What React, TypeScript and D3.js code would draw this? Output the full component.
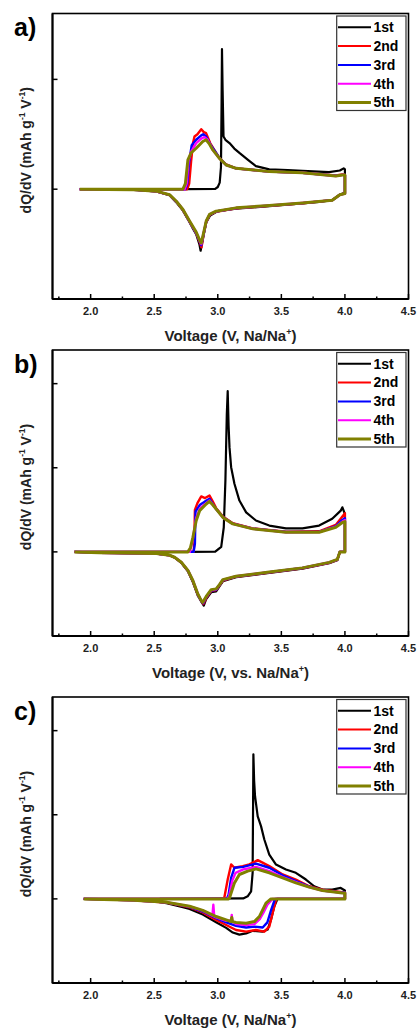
import React from "react";
import * as d3 from "d3";

type P = [number, number];

const CYCLES = ["1st", "2nd", "3rd", "4th", "5th"];
const COLORS = ["#000000", "#ff0000", "#0000ff", "#ff00ff", "#808000"];
const WIDTHS = [2.2, 2.4, 2.4, 2.4, 3];
const LEGEND_WIDTHS = [2, 2, 2, 2, 2.8];
const X_TICKS = [2.0, 2.5, 3.0, 3.5, 4.0, 4.5];
const X_MINOR = [1.75, 2.25, 2.75, 3.25, 3.75, 4.25];
const PANEL_LABELS = ["a)", "b)", "c)"];
const X_TITLES = ["Voltage (V, Na/Na", "Voltage (V, vs. Na/Na", "Voltage (V, Na/Na"];

// ---------- panel a ----------
const a1: P[] = [
  [2.75, 0], [2.98, 0.003], [3.0, 0.02], [3.015, 0.06], [3.025, 0.2], [3.03, 0.8], [3.033, 1.275],
  [3.038, 0.9], [3.045, 0.48], [3.06, 0.45], [3.092, 0.42], [3.13, 0.37], [3.17, 0.33], [3.235, 0.27],
  [3.3, 0.21], [3.405, 0.18], [3.55, 0.175], [3.666, 0.167], [3.875, 0.155], [3.96, 0.17], [3.99, 0.19], [4.0, 0.18],
  [4.0, -0.03], [3.96, -0.05], [3.9, -0.1], [3.8, -0.115], [3.666, -0.13], [3.405, -0.155], [3.144, -0.178],
  [3.0, -0.2], [2.94, -0.24], [2.91, -0.3], [2.89, -0.41], [2.875, -0.5], [2.865, -0.56], [2.855, -0.5],
  [2.83, -0.41], [2.8, -0.35], [2.778, -0.3], [2.726, -0.195], [2.674, -0.12], [2.62, -0.055], [2.517, -0.02],
  [2.34, -0.005], [2.1, 0], [1.914, 0],
];
const a2: P[] = [
  [1.914, 0], [2.5, 0], [2.76, 0], [2.775, 0.05], [2.79, 0.25], [2.805, 0.42], [2.817, 0.48], [2.84, 0.5],
  [2.87, 0.546], [2.89, 0.52], [2.908, 0.51], [2.94, 0.42], [2.987, 0.33], [3.013, 0.285], [3.066, 0.225],
  [3.144, 0.19], [3.405, 0.16], [3.666, 0.15], [3.928, 0.125], [3.98, 0.135], [4.0, 0.13],
  [4.0, -0.04], [3.96, -0.05], [3.9, -0.1], [3.666, -0.128], [3.405, -0.152], [3.144, -0.174], [2.987, -0.205],
  [2.935, -0.235], [2.909, -0.3], [2.89, -0.4], [2.872, -0.53], [2.86, -0.49], [2.83, -0.4], [2.778, -0.295],
  [2.726, -0.19], [2.674, -0.113], [2.62, -0.052], [2.517, -0.02], [2.34, -0.005], [1.914, 0],
];
const a3: P[] = [
  [1.914, 0], [2.5, 0], [2.745, 0], [2.76, 0.05], [2.775, 0.25], [2.795, 0.4], [2.83, 0.45], [2.87, 0.49],
  [2.885, 0.5], [2.908, 0.48], [2.94, 0.41], [2.987, 0.33], [3.013, 0.282], [3.066, 0.222], [3.144, 0.19],
  [3.405, 0.16], [3.666, 0.15], [3.928, 0.122], [3.98, 0.13], [4.0, 0.13],
  [4.0, -0.04], [3.96, -0.05], [3.9, -0.1], [3.666, -0.127], [3.405, -0.15], [3.144, -0.172], [2.987, -0.203],
  [2.935, -0.233], [2.909, -0.295], [2.89, -0.4], [2.87, -0.51], [2.86, -0.48], [2.83, -0.4], [2.778, -0.295],
  [2.726, -0.188], [2.674, -0.113], [2.62, -0.052], [2.517, -0.02], [2.34, -0.005], [1.914, 0],
];
const a4: P[] = [
  [1.914, 0], [2.5, 0], [2.74, 0], [2.755, 0.05], [2.77, 0.26], [2.79, 0.34], [2.83, 0.42], [2.87, 0.46],
  [2.895, 0.475], [2.92, 0.45], [2.96, 0.36], [3.013, 0.28], [3.066, 0.22], [3.144, 0.19], [3.405, 0.16],
  [3.666, 0.15], [3.928, 0.12], [3.98, 0.13], [4.0, 0.13],
  [4.0, -0.04], [3.96, -0.05], [3.9, -0.1], [3.666, -0.126], [3.405, -0.149], [3.144, -0.171], [2.987, -0.202],
  [2.935, -0.232], [2.909, -0.293], [2.89, -0.395], [2.87, -0.5], [2.86, -0.475], [2.83, -0.395], [2.778, -0.293],
  [2.726, -0.186], [2.674, -0.112], [2.62, -0.051], [2.517, -0.019], [2.34, -0.004], [1.914, 0],
];
const a5: P[] = [
  [1.914, 0], [2.5, 0], [2.726, 0], [2.745, 0.05], [2.765, 0.267], [2.79, 0.33], [2.83, 0.373], [2.882, 0.434],
  [2.908, 0.45], [2.935, 0.41], [2.961, 0.358], [3.013, 0.28], [3.066, 0.22], [3.144, 0.19], [3.405, 0.16],
  [3.666, 0.15], [3.928, 0.12], [3.98, 0.13], [4.0, 0.13],
  [4.0, -0.04], [3.96, -0.05], [3.9, -0.1], [3.666, -0.125], [3.405, -0.148], [3.144, -0.17], [2.987, -0.2],
  [2.935, -0.23], [2.909, -0.29], [2.89, -0.39], [2.87, -0.49], [2.86, -0.47], [2.83, -0.39], [2.778, -0.29],
  [2.726, -0.185], [2.674, -0.11], [2.62, -0.05], [2.517, -0.018], [2.34, -0.004], [1.914, 0],
];

// ---------- panel b ----------
const b1: P[] = [
  [2.778, 0], [2.98, 0.002], [3.027, 0.06], [3.047, 0.29], [3.06, 0.85], [3.071, 1.64], [3.078, 1.91],
  [3.085, 1.5], [3.092, 1.245], [3.105, 1.007], [3.131, 0.81], [3.17, 0.61], [3.223, 0.47], [3.3, 0.373],
  [3.405, 0.313], [3.536, 0.28], [3.666, 0.28], [3.797, 0.313], [3.9, 0.393], [3.967, 0.49], [3.98, 0.53],
  [3.995, 0.47], [4.0, 0.45],
  [4.0, 0], [3.96, 0], [3.94, -0.1], [3.876, -0.135], [3.666, -0.2], [3.405, -0.25], [3.144, -0.3], [3.04, -0.35],
  [3.013, -0.41], [2.987, -0.47], [2.948, -0.48], [2.909, -0.56], [2.89, -0.64], [2.875, -0.6], [2.843, -0.52],
  [2.804, -0.36], [2.765, -0.23], [2.713, -0.13], [2.66, -0.066], [2.62, -0.04], [2.517, -0.02], [2.07, -0.01], [1.872, 0],
];
const b2: P[] = [
  [1.872, 0], [2.6, 0], [2.81, 0], [2.815, 0.1], [2.82, 0.5], [2.84, 0.58], [2.87, 0.66], [2.9, 0.64],
  [2.935, 0.67], [2.96, 0.6], [2.987, 0.52], [3.04, 0.42], [3.118, 0.34], [3.275, 0.28], [3.536, 0.24],
  [3.797, 0.245], [3.928, 0.32], [3.98, 0.42], [4.0, 0.46],
  [4.0, 0], [3.96, 0], [3.94, -0.095], [3.876, -0.13], [3.666, -0.195], [3.405, -0.245], [3.144, -0.295], [3.04, -0.34],
  [3.013, -0.4], [2.987, -0.455], [2.948, -0.465], [2.909, -0.55], [2.887, -0.62], [2.872, -0.59], [2.843, -0.51],
  [2.804, -0.35], [2.765, -0.225], [2.713, -0.126], [2.66, -0.065], [2.62, -0.04], [2.517, -0.02], [2.07, -0.01], [1.872, 0],
];
const b3: P[] = [
  [1.872, 0], [2.6, 0], [2.81, 0], [2.82, 0.1], [2.825, 0.48], [2.86, 0.56], [2.9, 0.6], [2.935, 0.63],
  [2.96, 0.57], [2.987, 0.51], [3.04, 0.415], [3.118, 0.335], [3.275, 0.276], [3.536, 0.236], [3.797, 0.238],
  [3.928, 0.305], [3.98, 0.38], [4.0, 0.4],
  [4.0, 0], [3.96, 0], [3.94, -0.092], [3.876, -0.128], [3.666, -0.192], [3.405, -0.242], [3.144, -0.292], [3.04, -0.335],
  [3.013, -0.395], [2.987, -0.45], [2.948, -0.46], [2.909, -0.54], [2.885, -0.61], [2.87, -0.585], [2.843, -0.505],
  [2.804, -0.345], [2.765, -0.222], [2.713, -0.125], [2.66, -0.064], [2.62, -0.04], [2.517, -0.02], [2.07, -0.01], [1.872, 0],
];
const b4: P[] = [
  [1.872, 0], [2.6, 0], [2.78, 0], [2.8, 0.12], [2.83, 0.4], [2.86, 0.52], [2.909, 0.58], [2.935, 0.61],
  [2.96, 0.56], [2.987, 0.51], [3.04, 0.41], [3.118, 0.333], [3.275, 0.275], [3.536, 0.234], [3.797, 0.235],
  [3.928, 0.3], [3.98, 0.36], [4.0, 0.38],
  [4.0, 0], [3.96, 0], [3.94, -0.091], [3.876, -0.126], [3.666, -0.19], [3.405, -0.24], [3.144, -0.29], [3.04, -0.332],
  [3.013, -0.392], [2.987, -0.445], [2.948, -0.455], [2.909, -0.535], [2.883, -0.6], [2.87, -0.58], [2.843, -0.5],
  [2.804, -0.34], [2.765, -0.22], [2.713, -0.124], [2.66, -0.064], [2.62, -0.04], [2.517, -0.02], [2.07, -0.01], [1.872, 0],
];
const b5: P[] = [
  [1.872, 0], [2.6, 0], [2.765, 0], [2.785, 0.05], [2.804, 0.17], [2.83, 0.37], [2.857, 0.49], [2.909, 0.57],
  [2.935, 0.6], [2.96, 0.56], [2.987, 0.51], [3.04, 0.41], [3.118, 0.333], [3.275, 0.274], [3.536, 0.233],
  [3.797, 0.233], [3.928, 0.293], [3.98, 0.35], [4.0, 0.36],
  [4.0, 0], [3.96, 0], [3.94, -0.09], [3.876, -0.125], [3.666, -0.19], [3.405, -0.24], [3.144, -0.29], [3.04, -0.33],
  [3.013, -0.39], [2.987, -0.44], [2.948, -0.45], [2.909, -0.53], [2.882, -0.6], [2.87, -0.58], [2.843, -0.5],
  [2.804, -0.34], [2.765, -0.22], [2.713, -0.124], [2.66, -0.064], [2.62, -0.04], [2.517, -0.02], [2.07, -0.01], [1.872, 0],
];

// ---------- panel c ----------
const c1: P[] = [
  [2.543, 0], [3.2, 0.005], [3.235, 0.03], [3.262, 0.09], [3.274, 0.31], [3.278, 1.2], [3.28, 1.718],
  [3.286, 1.4], [3.293, 1.22], [3.314, 0.98], [3.34, 0.865], [3.366, 0.706], [3.405, 0.527], [3.458, 0.408],
  [3.536, 0.349], [3.614, 0.31], [3.693, 0.23], [3.758, 0.15], [3.823, 0.11], [3.9, 0.11], [3.967, 0.13], [4.0, 0.1],
  [4.0, 0], [3.47, 0], [3.444, -0.09], [3.418, -0.25], [3.392, -0.365], [3.353, -0.39], [3.275, -0.38],
  [3.223, -0.41], [3.17, -0.425], [3.118, -0.4], [3.066, -0.345], [2.987, -0.278], [2.882, -0.187], [2.778, -0.12],
  [2.726, -0.1], [2.596, -0.05], [2.47, -0.02], [2.2, -0.005], [1.945, 0],
];
const c2: P[] = [
  [1.945, 0], [2.8, 0], [3.04, 0], [3.052, 0.02], [3.078, 0.23], [3.105, 0.41], [3.131, 0.37], [3.196, 0.39],
  [3.248, 0.41], [3.314, 0.46], [3.405, 0.39], [3.51, 0.29], [3.614, 0.23], [3.719, 0.15], [3.823, 0.11],
  [3.98, 0.08], [4.0, 0.08],
  [4.0, 0], [3.46, 0], [3.431, -0.17], [3.405, -0.33], [3.366, -0.39], [3.3, -0.37], [3.223, -0.39], [3.144, -0.37],
  [3.066, -0.31], [2.987, -0.25], [2.882, -0.16], [2.778, -0.1], [2.596, -0.045], [2.338, -0.016], [1.945, 0],
];
const c3: P[] = [
  [1.945, 0], [2.8, 0], [3.07, 0], [3.085, 0.05], [3.105, 0.25], [3.131, 0.37], [3.2, 0.38], [3.3, 0.42],
  [3.405, 0.37], [3.51, 0.28], [3.614, 0.21], [3.719, 0.145], [3.823, 0.1], [3.98, 0.075], [4.0, 0.075],
  [4.0, 0], [3.45, 0], [3.418, -0.14], [3.39, -0.28], [3.353, -0.34], [3.288, -0.33], [3.223, -0.34], [3.144, -0.32],
  [3.066, -0.28], [2.987, -0.23], [2.882, -0.15], [2.778, -0.095], [2.596, -0.042], [2.338, -0.016], [1.945, 0],
];
const c4: P[] = [
  [1.945, 0], [2.8, 0], [3.08, 0], [3.09, 0.04], [3.115, 0.22], [3.14, 0.31], [3.2, 0.35], [3.3, 0.38],
  [3.405, 0.33], [3.51, 0.26], [3.614, 0.2], [3.719, 0.14], [3.823, 0.1], [3.98, 0.072], [4.0, 0.072],
  [4.0, 0], [3.43, 0], [3.39, -0.07], [3.36, -0.16], [3.33, -0.24], [3.288, -0.3], [3.223, -0.31], [3.144, -0.3],
  [3.115, -0.27], [3.11, -0.19], [3.105, -0.26], [3.066, -0.26], [2.987, -0.22], [2.972, -0.21], [2.965, -0.07],
  [2.958, -0.2], [2.882, -0.14], [2.778, -0.09], [2.596, -0.04], [2.338, -0.016], [1.945, 0],
];
const c5: P[] = [
  [1.945, 0], [2.8, 0], [3.085, 0], [3.092, 0.01], [3.131, 0.19], [3.17, 0.29], [3.235, 0.33], [3.3, 0.357],
  [3.405, 0.31], [3.51, 0.25], [3.614, 0.19], [3.719, 0.14], [3.823, 0.1], [3.98, 0.07], [4.0, 0.07],
  [4.0, 0], [3.418, 0], [3.379, -0.05], [3.353, -0.13], [3.327, -0.21], [3.288, -0.27], [3.223, -0.29],
  [3.144, -0.28], [3.115, -0.27], [3.11, -0.22], [3.104, -0.27], [3.066, -0.25], [2.987, -0.21], [2.882, -0.136],
  [2.778, -0.088], [2.596, -0.04], [2.338, -0.016], [1.945, 0],
];

const PANELS = [
  { series: [a1, a2, a3, a4, a5], yDomain: [-1, 1.6], yTicks: [0, 1], top: 13.5, bottom: 299 },
  { series: [b1, b2, b3, b4, b5], yDomain: [-1, 2.4], yTicks: [0, 1, 2], top: 350, bottom: 636 },
  { series: [c1, c2, c3, c4, c5], yDomain: [-1, 2.4], yTicks: [0, 1, 2], top: 697, bottom: 983 },
];

const LEFT = 52.5;
const RIGHT = 408.5;
const FONT = "'Liberation Sans', Arial, sans-serif";

function Panel({ idx }: { idx: number }) {
  const p = PANELS[idx];
  const x = d3.scaleLinear().domain([1.7, 4.5]).range([LEFT, RIGHT]);
  const y = d3.scaleLinear().domain(p.yDomain).range([p.bottom, p.top]);
  const line = d3
    .line<P>()
    .x((d) => x(d[0]))
    .y((d) => y(d[1]));
  const midY = (p.top + p.bottom) / 2 - 6;
  const lx0 = 336.7;
  const lx1 = 406;
  return (
    <g>
      <defs>
        <clipPath id={`clip${idx}`}>
          <rect x={LEFT} y={p.top} width={RIGHT - LEFT} height={p.bottom - p.top} />
        </clipPath>
      </defs>
      <g clipPath={`url(#clip${idx})`}>
        {p.series.map((s, i) => (
          <path
            key={i}
            d={line(s) || ""}
            fill="none"
            stroke={COLORS[i]}
            strokeWidth={WIDTHS[i]}
            strokeLinejoin="round"
          />
        ))}
      </g>
      {/* frame */}
      <rect x={LEFT} y={p.top} width={RIGHT - LEFT} height={p.bottom - p.top} fill="none" stroke="#000" strokeWidth={1.6} />
      <line x1={LEFT} x2={LEFT} y1={p.top} y2={p.bottom} stroke="#000" strokeWidth={2} />
      <line x1={LEFT} x2={RIGHT} y1={p.bottom} y2={p.bottom} stroke="#000" strokeWidth={2} />
      {/* x ticks */}
      {X_TICKS.map((t) => (
        <g key={`xt${t}`}>
          <line x1={x(t)} x2={x(t)} y1={p.bottom} y2={p.bottom - 5} stroke="#000" strokeWidth={1.5} />
          <text
            x={x(t)}
            y={p.bottom + 16}
            textAnchor="middle"
            fontFamily={FONT}
            fontWeight="bold"
            fontSize={11}
            fill="#222"
          >
            {t.toFixed(1)}
          </text>
        </g>
      ))}
      {X_MINOR.map((t) => (
        <line key={`xm${t}`} x1={x(t)} x2={x(t)} y1={p.bottom} y2={p.bottom - 2.5} stroke="#000" strokeWidth={1.5} />
      ))}
      {/* y ticks */}
      {p.yTicks.map((t) => (
        <line key={`yt${t}`} x1={LEFT} x2={LEFT + 5} y1={y(t)} y2={y(t)} stroke="#000" strokeWidth={1.5} />
      ))}
      {/* titles */}
      <text
        x={(LEFT + RIGHT) / 2}
        y={p.bottom + 42}
        textAnchor="middle"
        fontFamily={FONT}
        fontWeight="bold"
        fontSize={15}
        fill="#222"
      >
        {X_TITLES[idx]}
        <tspan fontSize={9} dy={-6}>+</tspan>
        <tspan dy={6}>)</tspan>
      </text>
      <text
        transform={`translate(31,${midY}) rotate(-90)`}
        textAnchor="middle"
        fontFamily={FONT}
        fontWeight="bold"
        fontSize={14}
        fill="#222"
      >
        dQ/dV (mAh g<tspan fontSize={8.5} dy={-6}>-1</tspan>
        <tspan dy={6}> V</tspan>
        <tspan fontSize={8.5} dy={-6}>-1</tspan>
        <tspan dy={6}>)</tspan>
      </text>
      <text x={14} y={p.top + 22.5} fontFamily={FONT} fontWeight="bold" fontSize={25} fill="#000">
        {PANEL_LABELS[idx]}
      </text>
      {/* legend */}
      <rect x={lx0} y={p.top + 2.5} width={lx1 - lx0} height={94.5} fill="#fff" stroke="#333" strokeWidth={1.2} />
      {CYCLES.map((c, i) => {
        const ly = p.top + 13.8 + i * 18.8;
        return (
          <g key={c}>
            <line x1={338} x2={371} y1={ly} y2={ly} stroke={COLORS[i]} strokeWidth={LEGEND_WIDTHS[i]} />
            <text x={373.5} y={ly + 4.8} fontFamily={FONT} fontWeight="bold" fontSize={14} fill="#000">
              {c}
            </text>
          </g>
        );
      })}
    </g>
  );
}

export default function App() {
  return (
    <svg
      width={419}
      height={1029}
      style={{ position: "absolute", left: 0, top: 0, background: "#fff" }}
      xmlns="http://www.w3.org/2000/svg"
    >
      <rect x={0} y={0} width={419} height={1029} fill="#fff" />
      {PANELS.map((_, i) => (
        <Panel key={i} idx={i} />
      ))}
    </svg>
  );
}
